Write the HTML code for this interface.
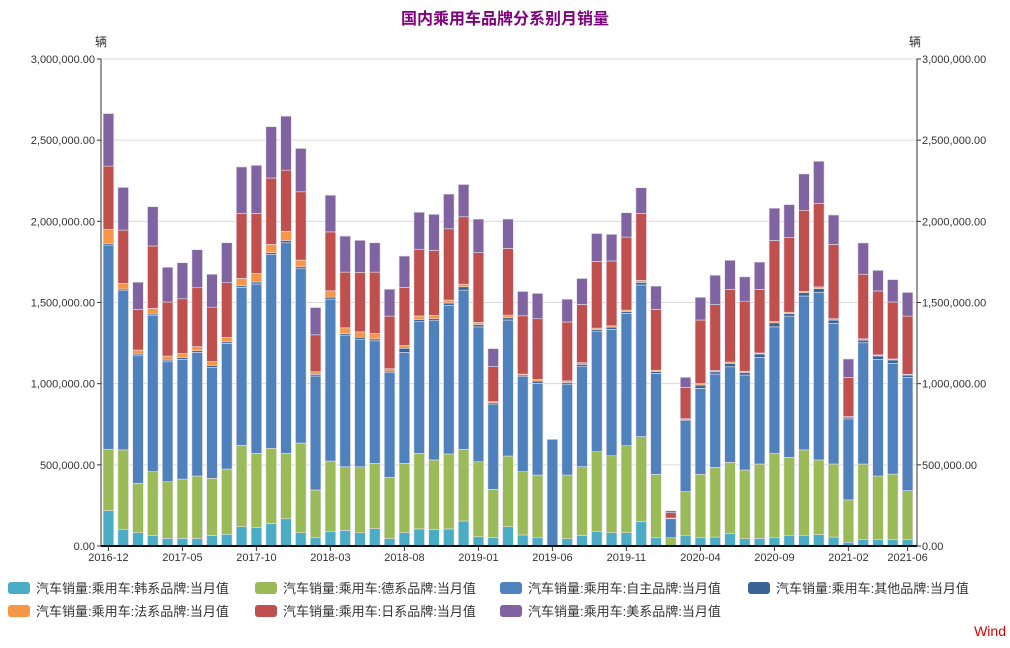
<!DOCTYPE html>
<html><head><meta charset="utf-8"><style>
body{margin:0;background:#fff;width:1010px;height:643px;overflow:hidden;font-family:"Liberation Sans","Noto Sans CJK SC",sans-serif}
svg text{font-family:"Liberation Sans","Noto Sans CJK SC",sans-serif}
</style></head><body>
<svg id="chart" width="1010" height="643">
<text x="505" y="24" text-anchor="middle" font-size="16" font-weight="bold" fill="#800080">国内乘用车品牌分系别月销量</text>
<text x="95" y="46" font-size="12" fill="#333">辆</text>
<text x="909" y="46" font-size="12" fill="#333">辆</text>
<text x="1006" y="636" text-anchor="end" font-size="14" fill="#d00">Wind</text>
<g id="grid"></g><g id="bars"></g><g id="axes"></g><g id="legend"></g>
</svg>
<script>
const months=["2016-12","2017-01","2017-02","2017-03","2017-04","2017-05","2017-06","2017-07","2017-08","2017-09","2017-10","2017-11","2017-12","2018-01","2018-02","2018-03","2018-04","2018-05","2018-06","2018-07","2018-08","2018-09","2018-10","2018-11","2018-12","2019-01","2019-02","2019-03","2019-04","2019-05","2019-06","2019-07","2019-08","2019-09","2019-10","2019-11","2019-12","2020-01","2020-02","2020-03","2020-04","2020-05","2020-06","2020-07","2020-08","2020-09","2020-10","2020-11","2020-12","2021-01","2021-02","2021-03","2021-04","2021-05","2021-06"];
const korean=[218,103,82,64,47,47,47,64,72,119,113,138,168,82,51,88,96,82,107,45,82,105,101,105,154,57,53,119,68,51,0,45,64,88,82,82,150,51,0,66,51,55,76,45,47,51,66,66,70,55,23,39,39,39,39];
const german=[378,489,304,394,349,365,384,353,402,501,458,464,402,552,294,435,392,406,402,378,427,466,429,462,441,462,296,435,390,386,0,392,425,493,474,536,524,390,51,269,390,429,439,423,458,519,480,526,460,450,261,466,392,404,302];
const domestic=[1258,981,786,961,739,737,762,684,774,973,1043,1195,1298,1074,702,998,811,786,755,645,684,811,858,914,981,831,526,838,585,565,657,560,616,739,778,815,934,622,117,437,530,575,589,585,657,780,870,948,1033,866,499,747,719,682,698];
const other=[10,10,10,10,10,12,10,12,10,10,12,10,14,12,10,12,10,12,12,10,25,14,12,16,21,14,8,14,10,14,0,10,14,12,14,12,16,12,4,8,21,14,21,16,21,25,16,21,23,21,10,16,21,21,14];
const french=[86,35,25,35,25,25,25,23,27,45,53,51,57,41,16,39,35,33,33,14,18,21,21,18,16,14,6,16,6,10,0,10,10,10,8,8,12,8,0,4,8,8,8,8,6,8,8,8,10,8,4,8,6,6,4];
const japanese=[390,328,250,384,333,337,363,335,337,400,370,409,376,421,228,363,343,367,378,324,357,411,400,439,415,429,216,411,359,374,0,363,359,411,400,450,413,374,33,193,392,406,448,431,392,499,460,499,515,458,242,398,394,351,359];
const american=[324,263,168,242,214,222,234,203,246,287,296,316,333,267,168,226,222,197,181,166,193,228,222,214,199,207,111,181,150,156,0,140,160,172,164,150,158,144,12,62,140,181,179,150,168,199,203,224,259,181,113,193,127,138,146];
const seriesNames=["汽车销量:乘用车:韩系品牌:当月值","汽车销量:乘用车:德系品牌:当月值","汽车销量:乘用车:自主品牌:当月值","汽车销量:乘用车:其他品牌:当月值","汽车销量:乘用车:法系品牌:当月值","汽车销量:乘用车:日系品牌:当月值","汽车销量:乘用车:美系品牌:当月值"];
const yTicks=[0,500000,1000000,1500000,2000000,2500000,3000000];
const tickMonths=["2016-12","2017-05","2017-10","2018-03","2018-08","2019-01","2019-06","2019-11","2020-04","2020-09","2021-02","2021-06"];
const series=[korean,german,domestic,other,french,japanese,american];
const colors=["#4bacc6","#9bbb59","#4f81bd","#3b6496","#f79646","#c0504d","#8064a2"];
const keys=["korean","german","domestic","other","french","japanese","american"];
const NS="http://www.w3.org/2000/svg";
const X0=101,X1=915,Y0=546,Y1=59,MAX=3000000;
const band=(X1-X0)/months.length;
const xC=i=>X0+band*(i+0.5);
const yS=v=>Y0-(v/MAX)*(Y0-Y1);
function mk(tag,attrs,parent){const e=document.createElementNS(NS,tag);for(const k in attrs)e.setAttribute(k,attrs[k]);parent.appendChild(e);return e;}
const fmt=v=>v.toLocaleString("en-US",{minimumFractionDigits:2,maximumFractionDigits:2});
const grid=document.getElementById("grid"),axes=document.getElementById("axes"),bars=document.getElementById("bars"),legend=document.getElementById("legend");
yTicks.forEach(v=>{
  const y=yS(v);
  if(v>0){const g=mk("line",{x1:X0,x2:X1+2,y1:y,y2:y,stroke:"#d9d9d9","stroke-width":1},grid);
  
  }
  const t=mk("text",{x:95,y:y+4,"text-anchor":"end","font-size":11,fill:"#333"},axes);t.textContent=fmt(v);
  
  
  const t2=mk("text",{x:922,y:y+4,"font-size":11,fill:"#333"},axes);t2.textContent=fmt(v);
  
  
  mk("line",{x1:X0-4,x2:X0,y1:y,y2:y,stroke:"#333"},axes);
  mk("line",{x1:X1+2,x2:X1+6,y1:y,y2:y,stroke:"#333"},axes);
});
months.forEach((m,i)=>{
  let acc=0;
  series.forEach((s,k)=>{
    const v=s[i]*1000;if(v<=0)return;
    const yt=yS(acc+v),yb=yS(acc);acc+=v;
    const r=mk("rect",{x:xC(i)-5.3,y:yt,width:10.6,height:Math.max(yb-yt,0.5),fill:colors[k],stroke:"#e6e0ee","stroke-width":0.6},bars);
    
    
  });
});
mk("line",{x1:X0,x2:X0,y1:Y1,y2:Y0,stroke:"#333"},axes);
mk("line",{x1:X1+2,x2:X1+2,y1:Y1,y2:Y0,stroke:"#333"},axes);
mk("line",{x1:X0,x2:X1+2,y1:Y0,y2:Y0,stroke:"#111","stroke-width":2},axes);
tickMonths.forEach(m=>{
  const i=months.indexOf(m);const x=xC(i);
  mk("line",{x1:x,x2:x,y1:Y0,y2:Y0+5,stroke:"#333"},axes);
  const t=mk("text",{x:x,y:Y0+15,"text-anchor":"middle","font-size":11,fill:"#333"},axes);t.textContent=m;
  
  
});
const lx=[8,255,500,748];
seriesNames.forEach((n,k)=>{
  const col=k%4,row=Math.floor(k/4);
  const g=mk("g",{},legend);
  
  
  mk("rect",{x:lx[col],y:582+row*23,width:22,height:12,rx:3,fill:colors[k]},g);
  const t=mk("text",{x:lx[col]+28,y:593+row*23,"font-size":13,fill:"#333"},g);t.textContent=n;
});
</script>
</body></html>
